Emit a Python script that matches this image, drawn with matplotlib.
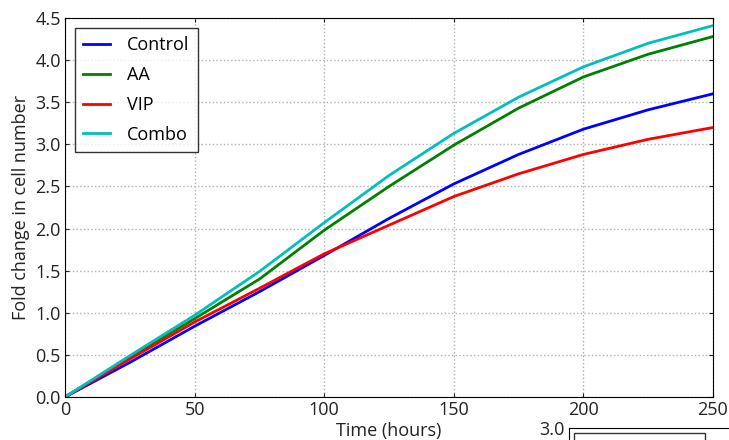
import matplotlib

matplotlib.use("Agg")

import matplotlib.pyplot as plt

plt.rcParams["font.family"] = ["Open Sans", "DejaVu Sans"]

# growth curves sampled every 25 h
hours = [0, 25, 50, 75, 100, 125, 150, 175, 200, 225, 250]
control = [0.0, 0.41, 0.84, 1.25, 1.68, 2.12, 2.53, 2.88, 3.18, 3.41, 3.60]
aa = [0.0, 0.47, 0.93, 1.40, 1.98, 2.50, 2.99, 3.43, 3.80, 4.07, 4.28]
vip = [0.0, 0.45, 0.89, 1.29, 1.70, 2.04, 2.38, 2.65, 2.88, 3.06, 3.20]
combo = [0.0, 0.49, 0.97, 1.49, 2.07, 2.63, 3.13, 3.56, 3.92, 4.20, 4.41]

series = [
    ("Control", control, "#0000ff"),
    ("AA", aa, "#008000"),
    ("VIP", vip, "#ff0000"),
    ("Combo", combo, "#00bfbf"),
]

fig = plt.figure(figsize=(7.29, 4.4), dpi=100)
ax = fig.add_axes([65 / 729, 1 - 397 / 440, 648 / 729, 379 / 440])

for name, vals, col in series:
    ax.plot(hours, vals, color=col, linewidth=2, label=name)

ax.set_xlim(0, 250)
ax.set_ylim(0, 4.5)
ax.set_xticks([0, 50, 100, 150, 200, 250])
ax.set_yticks([0.0, 0.5, 1.0, 1.5, 2.0, 2.5, 3.0, 3.5, 4.0, 4.5])
ax.set_yticklabels([f"{v:.1f}" for v in ax.get_yticks()])
ax.tick_params(direction="in", top=True, right=True, labelsize=13, length=3,
               pad=3, colors="#222222")
ax.grid(True, color="#b0b0b0", linestyle=":", linewidth=1)
ax.set_xlabel("Time (hours)", fontsize=13, labelpad=2, color="#222222")
ax.set_ylabel("Fold change in cell number", fontsize=13, color="#222222")
leg = ax.legend(loc="upper left", fontsize=13, frameon=True, fancybox=False,
                edgecolor="black", borderaxespad=0.55, handlelength=1.5,
                handletextpad=0.95, labelspacing=0.66, borderpad=0.45)
leg.get_frame().set_linewidth(1)

# neighbouring panel peeking in below
ax2 = fig.add_axes([569 / 729, 1 - 428 / 440 - 0.35, 0.3, 0.35])
ax2.set_ylim(0, 3.0)
ax2.set_xlim(0, 250)
ax2.set_yticks([3.0])
ax2.set_yticklabels(["3.0"])
ax2.set_xticks([])
ax2.tick_params(labelsize=13, length=0, colors="#222222")
ax2.axvline(220, color="#b0b0b0", linestyle=":", linewidth=1)
for name, vals, col in series:
    ax2.plot([], [], color=col, linewidth=2, label=name)
ax2.legend(loc="upper left", fontsize=13, fancybox=False, edgecolor="black",
           borderaxespad=0.3, handlelength=0.8, handletextpad=0.95,
           labelspacing=0.72, borderpad=1.0)

fig.savefig("out.png", dpi=100)
